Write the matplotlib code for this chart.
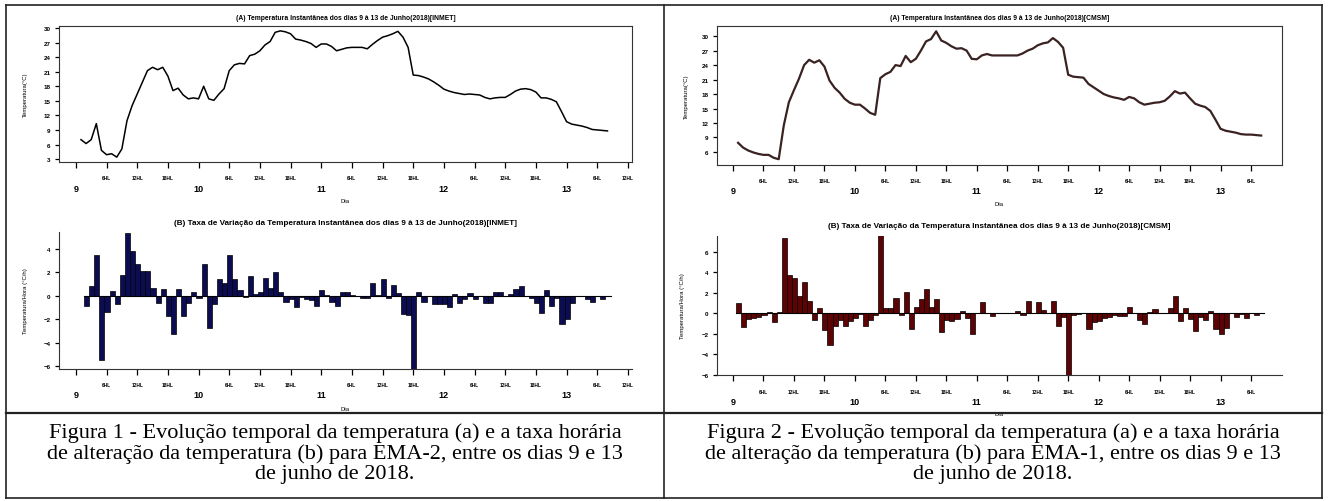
import numpy as np
import matplotlib
matplotlib.use("Agg")
import matplotlib.pyplot as plt
from matplotlib.lines import Line2D

plt.rcParams['font.family'] = ['Liberation Sans', 'DejaVu Sans']

# ---- data ----------------------------------------------------------------
# hour counted from 00h of 9 June
hours = np.arange(1, 105)

temp_inmet = [
    7.0, 6.2, 7.0, 10.3, 4.8, 3.9, 4.1, 3.4, 5.1, 10.9, 14.0, 16.4, 18.8, 21.2,
    21.9, 21.4, 21.9, 20.1, 17.1, 17.6, 16.2, 15.4, 15.6, 15.4, 18.0, 15.4, 15.1,
    16.4, 17.5, 21.2, 22.4, 22.7, 22.6, 24.3, 24.6, 25.3, 26.5, 27.2, 29.1, 29.4,
    29.2, 28.8, 27.7, 27.5, 27.2, 26.8, 26.0, 26.7, 26.7, 26.2, 25.3, 25.6, 25.9,
    26.0, 26.0, 26.0, 25.7, 26.6, 27.4, 28.1, 28.4, 28.8, 29.3, 28.1, 26.0, 20.3,
    20.2, 19.9, 19.5, 18.9, 18.2, 17.4, 17.0, 16.7, 16.5, 16.3, 16.4, 16.3, 16.2,
    15.7, 15.4, 15.6, 15.7, 15.7, 16.3, 17.0, 17.4, 17.5, 17.3, 16.8, 15.6, 15.6,
    15.3, 14.8, 12.8, 10.7, 10.2, 10.0, 9.8, 9.5, 9.1, 9.0, 8.9, 8.8,
]

temp_cmsm = [
    7.9, 6.9, 6.3, 5.9, 5.6, 5.4, 5.4, 4.8, 4.5, 11.5, 16.3, 18.8, 21.2, 24.0,
    25.1, 24.5, 25.0, 23.7, 20.8, 19.3, 18.3, 17.0, 16.2, 15.8, 15.8, 15.0, 14.1,
    13.7, 21.3, 22.1, 22.6, 24.0, 23.8, 25.9, 24.6, 25.3, 27.0, 28.9, 29.4, 31.0,
    29.1, 28.6, 27.9, 27.4, 27.5, 27.0, 25.3, 25.2, 26.0, 26.3, 26.0, 26.0, 26.0,
    26.0, 26.0, 26.0, 26.4, 27.0, 27.4, 28.1, 28.5, 28.7, 29.6, 28.8, 27.6, 22.0,
    21.6, 21.5, 21.4, 20.1, 19.4, 18.7, 18.0, 17.6, 17.3, 17.1, 16.8, 17.4, 17.1,
    16.3, 15.8, 16.0, 16.2, 16.3, 16.6, 17.5, 18.6, 18.1, 18.3, 17.1, 16.0, 15.6,
    15.3, 14.5, 12.7, 10.8, 10.4, 10.2, 10.0, 9.7, 9.6, 9.6, 9.5, 9.4,
]

rate_hours_inmet = np.arange(2, 105)
rate_inmet = [
    -0.85, 0.85, 3.45, -5.47, -1.4, 0.4, -0.7, 1.8, 5.36, 3.8, 2.7, 2.08, 2.08,
    0.65, -0.6, 0.6, -1.75, -3.25, 0.6, -1.75, -0.6, 0.3, -0.2, 2.75, -2.75, -0.7,
    1.42, 1.1, 3.5, 1.42, 0.5, -0.1, 1.7, 0.15, 0.35, 1.5, 0.65, 2.0, 0.28, -0.5,
    -0.3, -1.0, -0.1, -0.25, -0.4, -0.85, 0.5, 0.08, -0.55, -0.85, 0.35, 0.3,
    0.05, 0.0, -0.2, -0.2, 1.05, 0.1, 1.42, -0.2, 0.88, 0.23, -1.57, -1.68, -6.24,
    0.3, -0.5, -0.05, -0.7, -0.7, -0.7, -0.95, 0.18, -0.65, -0.25, 0.2, -0.25,
    0.02, -0.6, -0.65, 0.28, 0.28, 0.0, 0.17, 0.6, 0.8, 0.0, -0.17, -0.65, -1.45,
    0.5, -0.85, -0.15, -2.4, -1.97, -0.65, -0.05, -0.05, -0.3, -0.5, 0.0, -0.25,
    0.0,
]

rate_hours_cmsm = np.arange(1, 105)
rate_cmsm = [
    1.0, -1.3, -0.55, -0.45, -0.35, -0.2, 0.1, -0.9, 0.15, 7.35, 3.7, 3.4, 1.7,
    3.0, 1.2, -0.7, 0.55, -1.6, -3.1, -1.2, -0.7, -1.2, -0.8, -0.5, -0.05, -1.2,
    -0.65, -0.2, 7.6, 0.55, 0.55, 1.5, -0.15, 2.1, -1.5, 0.6, 1.35, 2.4, 0.65,
    1.35, -1.8, -0.65, -0.75, -0.55, 0.2, -0.5, -2.0, 0.0, 1.05, 0.0, -0.3, 0.0,
    0.0, 0.0, 0.0, 0.2, -0.2, 1.2, 0.0, 1.1, 0.3, 0.05, 1.2, -1.25, -0.4, -6.0,
    -0.2, -0.1, 0.0, -1.5, -0.85, -0.75, -0.5, -0.4, -0.2, -0.3, -0.3, 0.65, 0.0,
    -0.65, -1.0, 0.1, 0.4, 0.05, 0.05, 0.55, 1.7, -0.75, 0.55, -0.6, -1.7, -0.4,
    -0.65, 0.2, -1.5, -2.05, -1.4, 0.0, -0.35, -0.1, -0.5, 0.0, -0.2, 0.0,
]

day_ticks = [0, 24, 48, 72, 96]
day_labels = ['9', '10', '11', '12', '13']
hour_labels = ['6HL', '12HL', '18HL']

title_a_inmet = '(A) Temperatura Instantânea dos dias 9 à 13 de Junho(2018)[INMET]'
title_b_inmet = '(B) Taxa de Variação da Temperatura Instantânea dos dias 9 à 13 de Junho(2018)[INMET]'
title_a_cmsm = '(A) Temperatura Instantânea dos dias 9 à 13 de Junho(2018)[CMSM]'
title_b_cmsm = '(B) Taxa de Variação da Temperatura Instantânea dos dias 9 à 13 de Junho(2018)[CMSM]'

caption_1 = ['Figura 1 - Evolução temporal da temperatura (a) e a taxa horária',
             'de alteração da temperatura (b) para EMA-2, entre os dias 9 e 13',
             'de junho de 2018.']
caption_2 = ['Figura 2 - Evolução temporal da temperatura (a) e a taxa horária',
             'de alteração da temperatura (b) para EMA-1, entre os dias 9 e 13',
             'de junho de 2018.']

W, H = 1328, 502


def px_axes(x0, y0, x1, y1):
    """axes from pixel box (top-left origin)"""
    return fig.add_axes([x0 / W, 1 - y1 / H, (x1 - x0) / W, (y1 - y0) / H])


def style_time_axis(ax, last_hour, hour_pad, day_pad):
    ax.set_xticks(day_ticks)
    ax.set_xticklabels(day_labels)
    minor = [h for h in range(6, last_hour + 1, 6) if h % 24 != 0]
    ax.set_xticks(minor, minor=True)
    ax.set_xticklabels([hour_labels[(h % 24) // 6 - 1] for h in minor], minor=True)
    ax.tick_params(axis='x', which='major', length=4, width=0.9, pad=day_pad,
                   labelsize=6.5)
    ax.tick_params(axis='x', which='minor', length=4, width=0.9, pad=hour_pad,
                   labelsize=3.4)
    for lab in ax.get_xticklabels() + ax.get_xticklabels(minor=True):
        lab.set_fontweight('bold')
    ax.tick_params(axis='y', length=3, width=0.9, pad=3, labelsize=4.5)
    for lab in ax.get_yticklabels():
        lab.set_fontweight('bold')
    for sp in ax.spines.values():
        sp.set_linewidth(0.8)
        sp.set_color('#333333')


fig = plt.figure(figsize=(W / 100, H / 100), dpi=100)

# ---------------- Figura 1 (INMET) ----------------
ax = px_axes(59, 27, 632, 163)
ax.plot(hours, temp_inmet, color='black', lw=1.1)
ax.set_xlim(-3.3, 108.8)
ax.set_ylim(2.4, 30.4)
ax.set_yticks(np.arange(3, 31, 3))
style_time_axis(ax, 108, 5.5, 12)
ax.set_ylabel('Temperatura(°C)', fontsize=4.3)
ax.yaxis.set_label_coords(-31 / 573, 0.5)
ax.set_xlabel('Dia', fontsize=4.3)
ax.xaxis.set_label_coords(0.5, -36 / 136)
ax.text(0.5, 1 + 9 / 136, title_a_inmet, transform=ax.transAxes, ha='center',
        va='center', fontsize=4.9, fontweight='bold')

ax = px_axes(59, 233, 632, 370)
ax.bar(rate_hours_inmet - 0.4, rate_inmet, width=1.0, align='edge',
       color='#0c0c52', edgecolor='black', linewidth=0.5)
ax.plot([rate_hours_inmet[0] - 0.4, rate_hours_inmet[-1] + 0.6], [0, 0],
        color='black', lw=0.8)
ax.set_xlim(-3.3, 108.8)
ax.set_ylim(-6.26, 5.45)
ax.set_yticks(np.arange(-6, 5, 2))
ax.spines['top'].set_visible(False)
ax.spines['right'].set_visible(False)
style_time_axis(ax, 108, 5.5, 11)
ax.set_ylabel('Temperatura/Hora (°C/h)', fontsize=4.3)
ax.yaxis.set_label_coords(-31 / 573, 0.5)
ax.set_xlabel('Dia', fontsize=4.3)
ax.xaxis.set_label_coords(0.5, -37 / 137)
ax.text(0.5, 1 + 10 / 137, title_b_inmet, transform=ax.transAxes, ha='center',
        va='center', fontsize=5.9, fontweight='bold')

# ---------------- Figura 2 (CMSM) ----------------
ax = px_axes(717, 27, 1282, 166)
ax.plot(hours, temp_cmsm, color='#3a2222', lw=1.6)
ax.set_xlim(-3.15, 108.1)
ax.set_ylim(3.3, 32.1)
ax.set_yticks(np.arange(6, 31, 3))
style_time_axis(ax, 102, 5.5, 11)
ax.set_ylabel('Temperatura(°C)', fontsize=4.3)
ax.yaxis.set_label_coords(-28 / 565, 0.5)
ax.set_xlabel('Dia', fontsize=4.3)
ax.xaxis.set_label_coords(0.5, -36 / 139)
ax.text(0.5, 1 + 9 / 139, title_a_cmsm, transform=ax.transAxes, ha='center',
        va='center', fontsize=4.9, fontweight='bold')

ax = px_axes(717, 237, 1282, 376)
ax.bar(rate_hours_cmsm - 0.4, rate_cmsm, width=1.0, align='edge',
       color='#5e0303', edgecolor='black', linewidth=0.5)
ax.plot([rate_hours_cmsm[0] - 0.4, rate_hours_cmsm[-1] + 0.6], [0, 0],
        color='black', lw=0.8)
ax.set_xlim(-3.15, 108.1)
ax.set_ylim(-6.02, 7.53)
ax.set_yticks(np.arange(-6, 7, 2))
ax.spines['top'].set_visible(False)
ax.spines['right'].set_visible(False)
style_time_axis(ax, 102, 6, 12)
ax.set_ylabel('Temperatura/Hora (°C/h)', fontsize=4.3)
ax.yaxis.set_label_coords(-32 / 565, 0.5)
ax.set_xlabel('Dia', fontsize=4.3)
ax.xaxis.set_label_coords(0.5, -36 / 139)
ax.text(0.5, 1 + 10 / 139, title_b_cmsm, transform=ax.transAxes, ha='center',
        va='center', fontsize=5.9, fontweight='bold')

# ---------------- table borders ----------------
def hline(y, x0, x1, lw):
    fig.add_artist(Line2D([x0 / W, x1 / W], [1 - y / H, 1 - y / H],
                          color='#222222', lw=lw))


def vline(x, y0, y1, lw):
    fig.add_artist(Line2D([x / W, x / W], [1 - y0 / H, 1 - y1 / H],
                          color='#222222', lw=lw))


hline(6, 6, 1322, 1.2)
hline(499, 6, 1322, 1.2)
hline(414, 6, 1322, 1.6)
vline(6, 6, 499, 1.2)
vline(1322, 6, 499, 1.2)
vline(664, 6, 499, 1.2)

# ---------------- captions ----------------
for i, line in enumerate(caption_1):
    fig.text(335 / W, 1 - (433 + 21 * i) / H, line, ha='center', va='center',
             fontsize=16, family='Liberation Serif')
for i, line in enumerate(caption_2):
    fig.text(993 / W, 1 - (433 + 21 * i) / H, line, ha='center', va='center',
             fontsize=16, family='Liberation Serif')

fig.savefig('out.png', dpi=100, facecolor='white')
